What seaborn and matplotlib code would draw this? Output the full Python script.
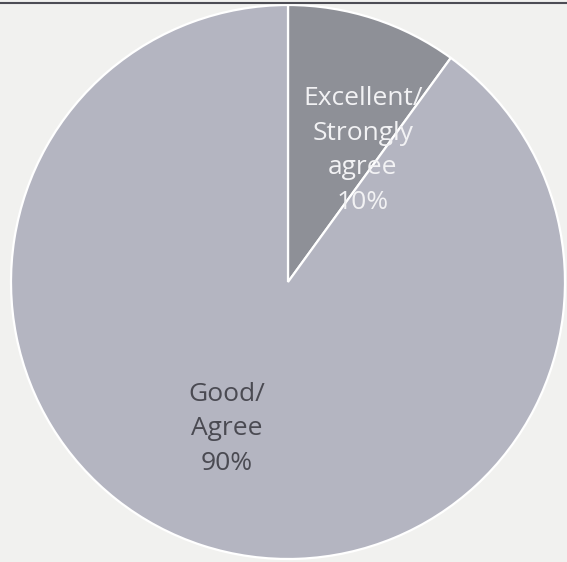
import matplotlib
matplotlib.use("Agg")
import matplotlib.pyplot as plt
import seaborn as sns
from matplotlib.lines import Line2D

categories = ["Excellent/\nStrongly\nagree", "Good/\nAgree"]
values = [10, 90]
pct_labels = ["10%", "90%"]

sns.set_theme(style="white")
plt.rcParams['font.family'] = ['Open Sans', 'DejaVu Sans']

colors = sns.color_palette(["#8e9097", "#b4b5c1"])
text_colors = ["#f2f2f4", "#4a4a52"]
# label positions in units of the pie radius
label_pos = [(0.27, 0.475), (-0.22, -0.53)]

fig = plt.figure(figsize=(5.67, 5.62), dpi=100, facecolor="#f1f1ef")
ax = fig.add_axes([11 / 567, 3 / 562, 554 / 567, 554 / 562])
ax.set_facecolor("#f1f1ef")

wedges, _ = ax.pie(values, colors=colors, startangle=90, counterclock=False,
                   radius=1.0,
                   wedgeprops=dict(edgecolor="white", linewidth=1.6))
ax.set_xlim(-1, 1)
ax.set_ylim(-1, 1)

for cat, pct, (x, y), tc in zip(categories, pct_labels, label_pos, text_colors):
    ax.text(x, y, f"{cat}\n{pct}", ha="center", va="center", fontsize=19,
            color=tc, linespacing=1.5)

fig.add_artist(Line2D([0, 1], [1 - 2.5 / 562, 1 - 2.5 / 562], transform=fig.transFigure,
                      color="#4d4d55", linewidth=1.5))

fig.savefig("out.png", dpi=100, facecolor=fig.get_facecolor())
